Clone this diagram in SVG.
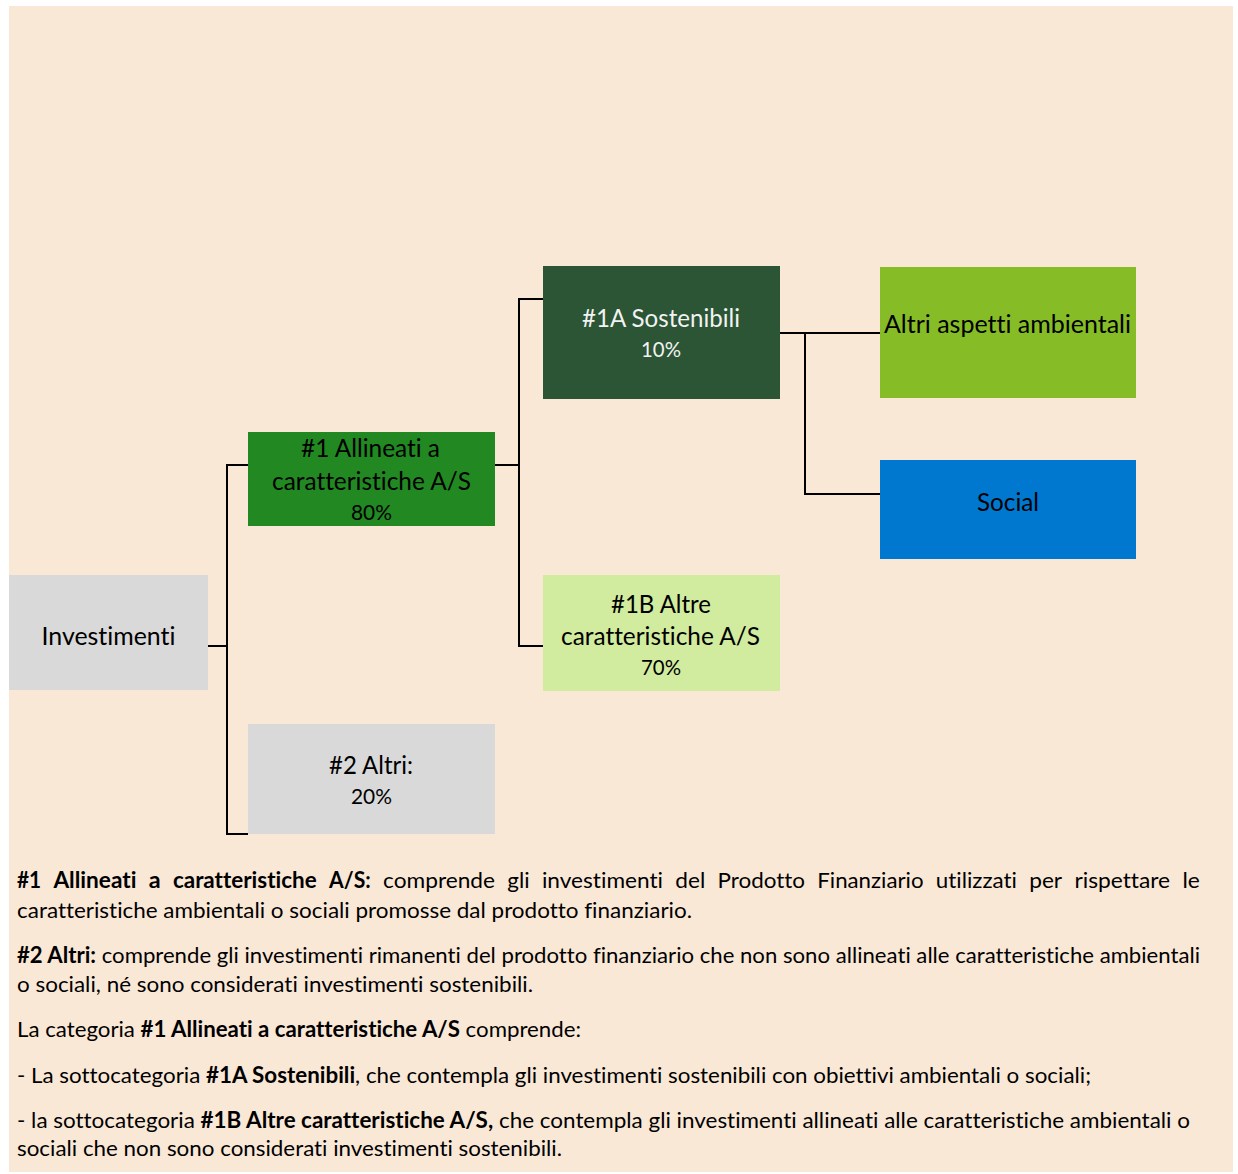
<svg xmlns="http://www.w3.org/2000/svg" width="1238" height="1174" viewBox="0 0 1238 1174">
<style>
text{font-variant-ligatures:none;font-feature-settings:"liga" 0,"clig" 0}
.lbl{font-family:Lato,'Liberation Sans',sans-serif;font-size:24.5px;fill:#000;text-anchor:middle}
.pct{font-size:22px}
.wht{fill:#F2F2F2}
.body{font-family:Lato,'Liberation Sans',sans-serif;font-size:22px;fill:#000}
.b{font-weight:bold}
.conn{fill:none;stroke:#000;stroke-width:2}
</style>
<rect x="0" y="0" width="1238" height="1174" fill="#FFFFFF"/>
<rect x="9" y="6" width="1224" height="1166" fill="#FAE8D7"/>

<g id="connectors">
<path class="conn" d="M208,646 H227 V465 H248"/>
<path class="conn" d="M208,646 H227 V834 H248"/>
<path class="conn" d="M495,465 H519 V299 H543"/>
<path class="conn" d="M495,465 H519 V646 H543"/>
<path class="conn" d="M780,333 H880"/>
<path class="conn" d="M780,333 H805 V494 H880"/>
</g>

<g id="node-investimenti">
<rect x="9" y="575" width="199" height="115" fill="#D9D9D9"/>
<text class="lbl" x="108.5" y="645" textLength="134" lengthAdjust="spacingAndGlyphs">Investimenti</text>
</g>

<g id="node-1">
<rect x="248" y="432" width="247" height="94" fill="#228822"/>
<text class="lbl" x="370.5" y="457" textLength="139" lengthAdjust="spacingAndGlyphs">#1 Allineati a</text>
<text class="lbl" x="371.5" y="490" textLength="199" lengthAdjust="spacingAndGlyphs">caratteristiche A/S</text>
<text class="lbl pct" x="371.5" y="520" textLength="41" lengthAdjust="spacingAndGlyphs">80%</text>
</g>

<g id="node-2">
<rect x="248" y="724" width="247" height="110" fill="#D9D9D9"/>
<text class="lbl" x="371" y="774" textLength="84" lengthAdjust="spacingAndGlyphs">#2 Altri:</text>
<text class="lbl pct" x="371.5" y="804" textLength="41" lengthAdjust="spacingAndGlyphs">20%</text>
</g>

<g id="node-1a">
<rect x="543" y="266" width="237" height="133" fill="#2B5534"/>
<text class="lbl wht" x="661" y="327" textLength="158" lengthAdjust="spacingAndGlyphs">#1A Sostenibili</text>
<text class="lbl pct wht" x="661" y="357" textLength="40" lengthAdjust="spacingAndGlyphs">10%</text>
</g>

<g id="node-1b">
<rect x="543" y="575" width="237" height="116" fill="#D1EB9F"/>
<text class="lbl" x="661" y="613" textLength="100" lengthAdjust="spacingAndGlyphs">#1B Altre</text>
<text class="lbl" x="660.5" y="645" textLength="199" lengthAdjust="spacingAndGlyphs">caratteristiche A/S</text>
<text class="lbl pct" x="661" y="675" textLength="40" lengthAdjust="spacingAndGlyphs">70%</text>
</g>

<g id="node-altri-aspetti">
<rect x="880" y="267" width="256" height="131" fill="#86BC26"/>
<text class="lbl" x="1007.5" y="333" textLength="247" lengthAdjust="spacingAndGlyphs">Altri aspetti ambientali</text>
</g>

<g id="node-social">
<rect x="880" y="460" width="256" height="99" fill="#0078D0"/>
<text class="lbl" x="1008" y="511" textLength="62" lengthAdjust="spacingAndGlyphs">Social</text>
</g>

<g id="legend">
<g class="body">
<text class="b" x="17" y="888" textLength="24.1" lengthAdjust="spacingAndGlyphs">#1</text>
<text class="b" x="53.4" y="888" textLength="83" lengthAdjust="spacingAndGlyphs">Allineati</text>
<text class="b" x="148.7" y="888" textLength="11.9" lengthAdjust="spacingAndGlyphs">a</text>
<text class="b" x="172.9" y="888" textLength="143.9" lengthAdjust="spacingAndGlyphs">caratteristiche</text>
<text class="b" x="329.1" y="888" textLength="41.6" lengthAdjust="spacingAndGlyphs">A/S:</text>
<text x="383" y="888" textLength="112" lengthAdjust="spacingAndGlyphs">comprende</text>
<text x="507.3" y="888" textLength="22.3" lengthAdjust="spacingAndGlyphs">gli</text>
<text x="541.9" y="888" textLength="121.1" lengthAdjust="spacingAndGlyphs">investimenti</text>
<text x="675.3" y="888" textLength="30" lengthAdjust="spacingAndGlyphs">del</text>
<text x="717.6" y="888" textLength="87.4" lengthAdjust="spacingAndGlyphs">Prodotto</text>
<text x="817.3" y="888" textLength="106.2" lengthAdjust="spacingAndGlyphs">Finanziario</text>
<text x="935.8" y="888" textLength="81.1" lengthAdjust="spacingAndGlyphs">utilizzati</text>
<text x="1029.2" y="888" textLength="32.9" lengthAdjust="spacingAndGlyphs">per</text>
<text x="1074.4" y="888" textLength="95.7" lengthAdjust="spacingAndGlyphs">rispettare</text>
<text x="1182.4" y="888" textLength="17.4" lengthAdjust="spacingAndGlyphs">le</text>
</g>
<text class="body" x="17" y="918" textLength="675" lengthAdjust="spacingAndGlyphs">caratteristiche ambientali o sociali promosse dal prodotto finanziario.</text>
<text class="body" x="17" y="963" textLength="1183" lengthAdjust="spacingAndGlyphs"><tspan class="b">#2 Altri:</tspan> comprende gli investimenti rimanenti del prodotto finanziario che non sono allineati alle caratteristiche ambientali</text>
<text class="body" x="17" y="992" textLength="516" lengthAdjust="spacingAndGlyphs">o sociali, né sono considerati investimenti sostenibili.</text>
<text class="body" x="17" y="1037" textLength="564" lengthAdjust="spacingAndGlyphs">La categoria <tspan class="b">#1 Allineati a caratteristiche A/S</tspan> comprende:</text>
<text class="body" x="17" y="1083" textLength="1074" lengthAdjust="spacingAndGlyphs">- La sottocategoria <tspan class="b">#1A Sostenibili</tspan>, che contempla gli investimenti sostenibili con obiettivi ambientali o sociali;</text>
<text class="body" x="17" y="1128" textLength="1173" lengthAdjust="spacingAndGlyphs">- la sottocategoria <tspan class="b">#1B Altre caratteristiche A/S,</tspan> che contempla gli investimenti allineati alle caratteristiche ambientali o</text>
<text class="body" x="17" y="1156" textLength="545" lengthAdjust="spacingAndGlyphs">sociali che non sono considerati investimenti sostenibili.</text>
</g>
</svg>
